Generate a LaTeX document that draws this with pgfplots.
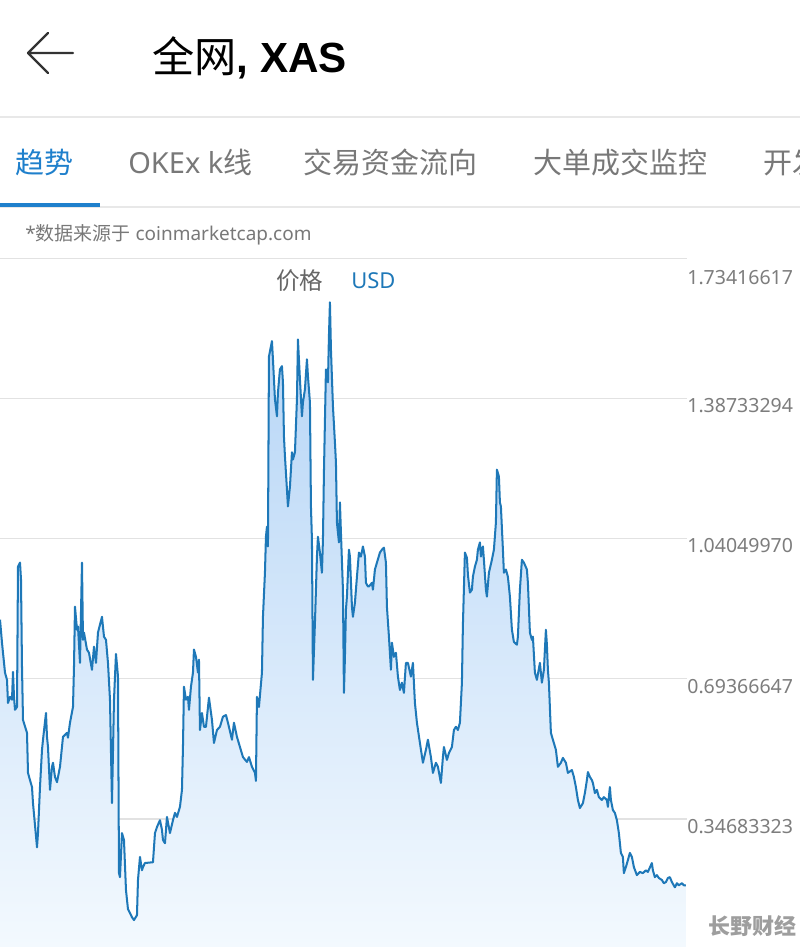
\documentclass[border=0pt]{standalone}
\usepackage{pgfplots}
\pgfplotsset{compat=1.18}
\usepackage{pgfplotstable}
\usepackage{fontspec}
\setmainfont{Noto Sans}
\newfontfamily\cjk{Noto Sans CJK SC}
\newfontfamily\titlefont{Liberation Sans}

\definecolor{lineblue}{HTML}{1E78B8}
\definecolor{tabblue}{HTML}{1F80CC}
\definecolor{fillTop}{HTML}{B4D4F6}
\definecolor{fillBot}{HTML}{F3F9FE}
\definecolor{gridgray}{HTML}{E2E2E2}
\definecolor{sepgray}{HTML}{E8E8E8}
\definecolor{labgray}{HTML}{7D7D7D}
\definecolor{tabgray}{HTML}{787878}

% price in USD, x = sample position
\pgfplotstableread{
x y
0 0.840
2 0.783
5 0.709
7 0.691
8 0.634
10 0.649
12 0.642
13 0.711
14 0.649
15 0.617
17 0.624
18 0.971
20 0.981
21 0.939
22 0.723
23 0.592
27 0.560
28 0.461
30 0.443
32 0.426
33 0.386
37 0.277
38 0.312
40 0.426
42 0.518
43 0.543
46 0.609
47 0.550
48 0.525
50 0.419
52 0.476
53 0.486
55 0.451
57 0.438
60 0.476
63 0.550
67 0.560
68 0.548
70 0.585
73 0.624
74 0.723
75 0.872
77 0.815
78 0.823
80 0.733
82 0.981
83 0.790
84 0.808
87 0.766
89 0.758
92 0.716
94 0.773
96 0.733
98 0.808
102 0.847
104 0.798
106 0.790
108 0.733
110 0.642
112 0.386
114 0.642
116 0.755
118 0.700
119 0.213
120 0.203
122 0.312
124 0.295
126 0.171
128 0.124
132 0.104
134 0.097
137 0.109
138 0.196
140 0.253
142 0.220
143 0.228
145 0.238
153 0.240
155 0.312
157 0.327
160 0.344
162 0.320
163 0.295
165 0.287
167 0.352
170 0.312
173 0.344
175 0.362
177 0.352
180 0.377
182 0.419
183 0.525
184 0.674
186 0.642
188 0.649
189 0.617
191 0.674
193 0.709
194 0.766
196 0.748
198 0.709
199 0.741
200 0.567
202 0.609
204 0.575
206 0.575
209 0.647
212 0.592
214 0.535
217 0.567
220 0.575
223 0.600
226 0.604
228 0.585
232 0.543
234 0.585
237 0.550
240 0.525
243 0.500
247 0.488
249 0.500
252 0.476
255 0.461
256 0.441
257 0.649
259 0.624
262 0.709
263 0.847
265 0.956
266 1.045
267 1.070
268 1.021
269 1.491
271 1.516
272 1.529
273 1.484
275 1.385
277 1.343
278 1.402
280 1.459
282 1.467
283 1.427
284 1.293
285 1.244
287 1.162
288 1.120
290 1.169
292 1.254
293 1.236
295 1.254
297 1.385
298 1.533
300 1.434
302 1.343
303 1.377
305 1.410
307 1.484
308 1.442
310 1.377
311 1.120
312 1.038
313 0.691
315 0.832
317 0.996
318 1.045
320 1.006
322 0.956
323 1.038
324 1.204
326 1.459
328 1.427
329 1.541
330 1.625
331 1.509
333 1.368
335 1.278
336 1.229
337 1.080
339 1.031
340 1.130
341 1.055
343 0.914
344 0.659
345 0.748
346 0.865
347 0.897
349 1.013
350 0.996
352 0.872
353 0.847
355 0.882
357 0.946
359 1.006
361 0.996
363 1.021
365 0.996
366 0.931
368 0.922
369 0.922
372 0.931
373 0.914
375 0.964
377 0.981
380 1.006
382 1.013
384 1.018
386 0.981
387 0.872
389 0.798
391 0.716
392 0.783
394 0.748
396 0.758
398 0.699
400 0.666
402 0.684
404 0.659
406 0.733
408 0.733
411 0.699
413 0.733
415 0.634
417 0.585
420 0.535
423 0.486
426 0.518
428 0.543
431 0.500
433 0.461
436 0.486
438 0.476
441 0.436
443 0.500
444 0.525
447 0.493
449 0.510
452 0.525
454 0.567
456 0.575
458 0.567
460 0.585
462 0.684
463 0.827
465 1.006
467 0.993
468 0.951
470 0.907
472 0.914
473 0.946
475 0.971
477 0.988
478 1.013
480 1.031
481 0.996
483 1.021
484 0.988
486 0.914
487 0.897
489 0.956
492 0.988
494 1.013
496 1.080
497 1.211
499 1.194
500 1.130
501 1.120
503 1.013
504 0.956
506 0.964
508 0.946
510 0.897
512 0.815
514 0.785
517 0.778
518 0.798
520 0.914
522 0.988
524 0.981
527 0.964
528 0.931
530 0.808
532 0.790
533 0.798
535 0.709
537 0.691
540 0.733
542 0.684
544 0.716
546 0.815
547 0.778
548 0.716
549 0.684
551 0.560
553 0.543
556 0.518
558 0.476
561 0.486
563 0.498
566 0.486
568 0.461
572 0.468
574 0.451
576 0.426
578 0.394
580 0.374
583 0.386
585 0.411
587 0.443
588 0.463
590 0.451
592 0.443
593 0.436
595 0.411
597 0.419
599 0.401
602 0.394
604 0.401
607 0.394
608 0.377
610 0.426
611 0.394
613 0.369
615 0.362
617 0.344
619 0.312
621 0.263
623 0.253
624 0.213
626 0.228
628 0.245
630 0.263
632 0.253
634 0.228
637 0.208
640 0.216
643 0.213
646 0.220
648 0.216
652 0.238
653 0.220
655 0.203
657 0.208
659 0.201
662 0.196
664 0.188
666 0.191
668 0.201
670 0.203
672 0.191
675 0.178
677 0.188
679 0.183
682 0.188
684 0.183
686 0.183
}\price

\begin{document}
\begin{tikzpicture}[x=0.02cm, y=0.02cm]
  % page frame: 800 x 947 px, origin at bottom left
  \path[use as bounding box, fill=white] (0,0) rectangle (800,947);

  % header
  \draw[color=black!80, line width=1.4pt, line cap=round, line join=round]
    (48,914) -- (28,894) -- (48,874) (28,894) -- (73,894);
  \node[anchor=base west, inner sep=0pt, font=\fontsize{24}{30}\selectfont]
    at (152,874) {{\cjk 全网}{\titlefont\bfseries, XAS}};
  \draw[sepgray, line width=0.6pt] (0,830) -- (800,830);

  % tabs (the last one runs off the right edge, as in the screen)
  \node[anchor=base west, inner sep=0pt, text=tabblue, font=\fontsize{16.5}{20}\selectfont\cjk] at (15,773) {趋势};
  \node[anchor=base west, inner sep=0pt, text=tabgray, font=\fontsize{16.5}{20}\selectfont] at (128,773) {OKEx k{\cjk 线}};
  \node[anchor=base west, inner sep=0pt, text=tabgray, font=\fontsize{16.5}{20}\selectfont\cjk] at (303,773) {交易资金流向};
  \node[anchor=base west, inner sep=0pt, text=tabgray, font=\fontsize{16.5}{20}\selectfont\cjk] at (533,773) {大单成交监控};
  \node[anchor=base west, inner sep=0pt, text=tabgray, font=\fontsize{16.5}{20}\selectfont\cjk] at (763,773) {开发进度};
  \draw[sepgray, line width=0.6pt] (0,740) -- (800,740);
  \fill[tabblue] (0,740) rectangle (100,744);

  % source line
  \node[anchor=base west, inner sep=0pt, text=tabgray, font=\fontsize{10.8}{13}\selectfont] at (25,706) {*{\cjk 数据来源于} coinmarketcap.com};

  % chart
  \begin{axis}[
    at={(0,0)}, anchor=south west,
    scale only axis,
    width=13.74cm, height=13.78cm,
    xmin=0, xmax=687,
    ymin=0.0303, ymax=1.73416617,
    axis line style={draw=none},
    major tick length=0pt,
    xtick=\empty,
    ytick={0.34683323,0.69366647,1.04049970,1.38733294,1.73416617},
    yticklabels={},
    ymajorgrids,
    grid style={gridgray, line width=0.6pt},
  ]
    \addplot[draw=none, top color=fillTop, bottom color=fillBot] table[x=x, y=y] {\price} \closedcycle;
    \addplot[lineblue, line width=1.15pt, line join=round] table[x=x, y=y] {\price};
  \end{axis}

  % axis value labels (right side)
  \begin{scope}[every node/.style={anchor=north west, inner sep=0pt, text=labgray, font=\fontsize{11.1}{13}\selectfont}]
    \node at (687,677) {1.73416617};
    \node at (687,549) {1.38733294};
    \node at (687,409) {1.04049970};
    \node at (687,268) {0.69366647};
    \node at (687,128) {0.34683323};
  \end{scope}

  % caption above the chart
  \node[anchor=base west, inner sep=0pt, text=black!60, font=\fontsize{13.4}{16}\selectfont\cjk] at (276,657) {价格};
  \node[anchor=base west, inner sep=0pt, text=lineblue, font=\fontsize{12.5}{15}\selectfont] at (351,658) {USD};

  % watermark
  \node[anchor=base west, inner sep=0pt, text=black!38, font=\fontsize{12.5}{15}\selectfont\cjk\bfseries] at (708,12) {长野财经};
\end{tikzpicture}
\end{document}
